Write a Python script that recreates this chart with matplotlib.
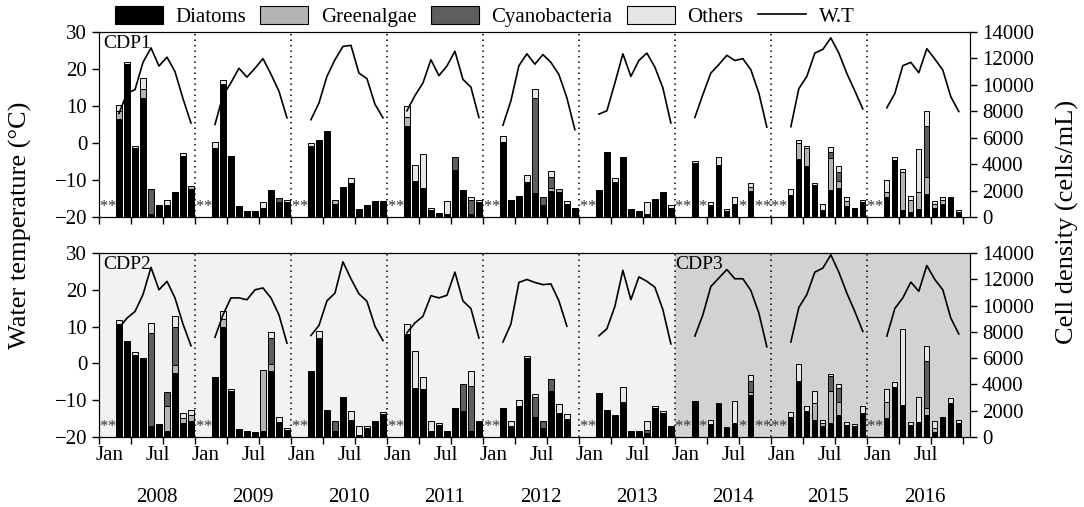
import numpy as np
import matplotlib
matplotlib.use('Agg')
from matplotlib import pyplot as plt
from matplotlib.patches import Patch
from matplotlib.lines import Line2D
import matplotlib.transforms as mtransforms

plt.rcParams['font.family'] = ['Liberation Serif', 'DejaVu Serif']

N = None
years = [2008, 2009, 2010, 2011, 2012, 2013, 2014, 2015, 2016]

# ---- CDP1 (top panel), cells/mL, one row per year Jan..Dec
top_diatoms = [
    N, N, 7400, 11600, 5200, 9000, 200, 880, 900, 1870, 4600, 2150,
    N, N, 5200, 10100, 4640, 860, 430, 430, 700, 2070, 1100, 1100,
    N, N, 5350, 5800, 6480, 1000, 2270, 2600, 630, 880, 1180, 1235,
    N, N, 6900, 2700, 2190, 500, 300, 250, 3580, 2070, 200, 1150,
    N, N, 5640, 1310, 1560, 2650, 1800, 900, 2000, 1900, 1000, 680,
    N, N, 2070, 4910, 2650, 4510, 600, 480, 200, 1360, 1860, 680,
    N, N, 4100, N, 900, 3960, 450, 980, N, 2000, N, N,
    N, N, 1690, 4400, 3830, 2400, 500, 2020, 2200, 800, 680, 1150,
    N, N, 1500, 4300, 550, 400, 600, 1760, 700, 1000, 1510, 400,
]
top_green = [
    N, N, 600, 0, 0, 700, 0, 0, 0, 0, 0, 170,
    N, N, 0, 0, 0, 0, 0, 0, 0, 0, 0, 0,
    N, N, 0, 0, 0, 310, 0, 0, 0, 0, 0, 0,
    N, N, 700, 0, 0, 0, 0, 0, 0, 0, 0, 0,
    N, N, 0, 0, 0, 0, 0, 0, 200, 220, 0, 0,
    N, N, 0, 0, 0, 0, 0, 0, 0, 0, 0, 0,
    N, N, 0, N, 0, 0, 0, 0, N, 300, N, N,
    N, N, 0, 1200, 1400, 0, 0, 2450, 500, 400, 0, 0,
    N, N, 400, 0, 2880, 900, 1300, 1230, 300, 300, 0, 0,
]
top_cyano = [
    N, N, 0, 0, 0, 0, 1900, 0, 0, 0, 0, 0,
    N, N, 0, 0, 0, 0, 0, 0, 0, 0, 340, 0,
    N, N, 0, 0, 0, 0, 0, 0, 0, 0, 0, 0,
    N, N, 0, 0, 0, 0, 0, 0, 930, 0, 1100, 0,
    N, N, 0, 0, 0, 0, 7200, 600, 800, 0, 0, 0,
    N, N, 0, 0, 0, 0, 0, 0, 0, 0, 0, 0,
    N, N, 0, N, 0, 0, 0, 0, N, 0, N, N,
    N, N, 0, 0, 0, 0, 0, 450, 700, 0, 0, 0,
    N, N, 0, 0, 0, 0, 0, 3930, 0, 0, 0, 0,
]
top_others = [
    N, N, 500, 100, 150, 800, 50, 0, 350, 0, 240, 0,
    N, N, 500, 300, 0, 0, 0, 0, 430, 0, 0, 160,
    N, N, 240, 0, 0, 0, 0, 350, 0, 0, 0, 0,
    N, N, 770, 1260, 2570, 180, 0, 930, 0, 0, 190, 110,
    N, N, 510, 0, 0, 550, 700, 0, 500, 0, 235, 0,
    N, N, 0, 0, 300, 0, 0, 0, 930, 0, 0, 200,
    N, N, 160, N, 230, 580, 150, 500, N, 300, N, N,
    N, N, 450, 200, 160, 170, 480, 350, 430, 290, 0, 160,
    N, N, 900, 210, 200, 260, 3250, 1070, 180, 210, 0, 100,
]
top_temp = [
    N, N, 8.0, 13.5, 14.4, 21.8, 25.7, 20.8, 23.2, 19.3, 12.0, 5.4,
    N, N, 5.0, 12.8, 16.3, 20.2, 17.8, 20.2, 22.8, 18.6, 14.0, 6.8,
    N, N, 6.3, 10.8, 18.0, 22.5, 26.1, 26.4, 18.9, 17.4, 10.5, 6.8,
    N, N, 8.7, 12.8, 16.2, 22.5, 18.2, 20.8, 24.8, 17.2, 15.1, 6.9,
    N, N, 4.8, 11.4, 20.9, 24.1, 21.3, 23.9, 21.8, 18.5, 12.2, 3.6,
    N, N, 7.8, 8.7, 16.2, 24.1, 18.0, 22.3, 24.3, 20.5, 14.9, 5.4,
    N, N, 6.9, 13.1, 18.9, 21.2, 23.7, 22.3, 22.8, 19.8, 13.5, 4.3,
    N, N, 4.4, 14.7, 18.0, 24.3, 25.3, 28.4, 24.3, 18.8, 14.1, 9.2,
    N, N, 9.5, 13.4, 20.9, 21.8, 19.0, 25.5, 22.7, 19.7, 12.5, 8.5,
]

# ---- CDP2 (2008-2013) and CDP3 (2014-2016), bottom panel
bot_diatoms = [
    N, N, 8600, 7280, 6250, 6010, 810, 990, 480, 4870, 1065, 1240,
    N, N, 4540, 8400, 3500, 630, 480, 380, 480, 5050, 1140, 500,
    N, N, 5050, 7500, 1950, 430, 3020, 1320, 150, 700, 1190, 1750,
    N, N, 7840, 3730, 3680, 480, 950, 480, 2210, 1950, 430, 1240,
    N, N, 2210, 860, 2330, 6000, 1450, 690, 3470, 1830, 1400, 0,
    N, N, 3350, 2030, 1580, 2660, 430, 430, 300, 2200, 1800, 750,
    N, N, 2710, N, 1000, 2590, 650, 1065, N, 3220, N, N,
    N, N, 1500, 4240, 1950, 1320, 800, 1065, 1700, 950, 850, 1830,
    N, N, 1450, 3780, 2460, 900, 1140, 1700, 400, 1520, 2590, 1050,
]
bot_green = [
    N, N, 0, 0, 0, 0, 0, 0, 1850, 630, 400, 400,
    N, N, 0, 600, 0, 0, 0, 0, 4640, 500, 0, 0,
    N, N, 0, 0, 0, 0, 0, 0, 0, 0, 0, 0,
    N, N, 0, 0, 0, 0, 0, 0, 0, 0, 0, 0,
    N, N, 0, 0, 0, 0, 100, 0, 0, 0, 0, 0,
    N, N, 0, 0, 0, 0, 0, 0, 0, 0, 0, 0,
    N, N, 0, N, 0, 0, 0, 0, N, 200, N, N,
    N, N, 0, 0, 0, 1270, 300, 2410, 1000, 0, 0, 0,
    N, N, 1220, 0, 0, 0, 0, 500, 300, 0, 0, 0,
]
bot_cyano = [
    N, N, 0, 0, 0, 0, 7100, 0, 1090, 2840, 0, 0,
    N, N, 0, 0, 0, 0, 0, 0, 0, 1980, 0, 0,
    N, N, 0, 0, 0, 760, 0, 0, 0, 0, 0, 0,
    N, N, 0, 0, 0, 0, 0, 0, 0, 2080, 3420, 0,
    N, N, 0, 0, 0, 0, 1500, 550, 940, 0, 0, 0,
    N, N, 0, 0, 0, 0, 0, 0, 200, 0, 0, 0,
    N, N, 0, N, 0, 0, 0, 0, N, 810, N, N,
    N, N, 0, 0, 0, 0, 0, 1140, 1000, 0, 0, 0,
    N, N, 0, 0, 0, 0, 0, 3550, 0, 0, 0, 0,
]
bot_others = [
    N, N, 330, 0, 190, 0, 760, 0, 0, 840, 365, 390,
    N, N, 0, 560, 150, 0, 0, 0, 0, 430, 360, 190,
    N, N, 0, 540, 130, 0, 0, 630, 660, 110, 0, 130,
    N, N, 760, 2840, 860, 710, 115, 0, 0, 0, 1190, 0,
    N, N, 0, 330, 510, 140, 250, 0, 0, 680, 380, 0,
    N, N, 0, 0, 120, 1120, 0, 0, 690, 130, 150, 110,
    N, N, 0, N, 320, 0, 110, 1700, N, 460, N, N,
    N, N, 400, 1310, 380, 940, 170, 200, 330, 190, 160, 500,
    N, N, 1010, 380, 5780, 240, 1900, 1140, 490, 0, 380, 270,
]
bot_temp = [
    N, N, 9.6, 12.3, 14.1, 18.7, 26.1, 20.0, 22.3, 17.8, 10.7, 4.8,
    N, N, 7.1, 13.2, 17.8, 17.8, 17.3, 20.0, 20.5, 17.8, 13.2, 5.5,
    N, N, 7.6, 10.3, 17.0, 19.1, 27.6, 23.0, 18.9, 16.9, 10.1, 6.2,
    N, N, 8.3, 11.0, 12.8, 18.4, 17.8, 18.5, 24.8, 17.0, 14.9, 6.9,
    N, N, 5.8, 10.7, 22.0, 22.8, 22.0, 21.4, 21.6, 17.0, 10.1, N,
    N, N, 7.5, 9.4, 15.5, 25.3, 17.3, 23.5, 22.3, 20.7, 14.6, 5.3,
    N, N, 7.4, 13.2, 20.9, 23.2, 25.5, 23.0, 23.0, 19.8, 13.7, 4.5,
    N, N, 5.8, 15.2, 18.7, 24.8, 25.9, 29.5, 24.8, 19.1, 14.1, 8.7,
    N, N, 7.4, 14.9, 17.8, 22.1, 19.6, 26.6, 22.8, 20.0, 12.3, 8.0,
]

groups = ['Diatoms', 'Greenalgae', 'Cyanobacteria', 'Others']
colors = ['#000000', '#b4b4b4', '#5e5e5e', '#e6e6e6']
TICK_FS = 15


def arr(v):
    return np.array([np.nan if a is None else a for a in v], dtype=float)


def draw_panel(ax, comps, temp, label, shade):
    x = np.arange(len(temp))
    axT = ax.twinx()
    if shade:
        ax.axvspan(-0.5, 71.5, color='#f2f2f2', zorder=0, lw=0)
        ax.axvspan(71.5, 109, color='#d2d2d2', zorder=0, lw=0)
    bottom = np.zeros(len(x))
    for vals, c in zip(comps, colors):
        v = arr(vals)
        m = np.nan_to_num(v) > 0
        ax.bar(x[m], v[m], bottom=bottom[m], width=0.66, color=c,
               edgecolor='black', linewidth=0.7, zorder=2)
        bottom = bottom + np.nan_to_num(v)
    # months without sample
    miss = np.isnan(arr(comps[0]))
    trans = mtransforms.blended_transform_factory(ax.transData, ax.transAxes)
    for i in x[miss]:
        ax.text(i, 0.01, '*', transform=trans, ha='center', va='bottom',
                fontsize=12, color='#333333', zorder=3)
    for k in range(1, 9):
        ax.axvline(12 * k - 0.5, color='black', linestyle=(0, (1, 2.6)),
                   linewidth=1.1, zorder=1)
    ax.set_xlim(-0.5, 108.4)
    ax.set_ylim(0, 14000)
    ax.set_yticks(np.arange(0, 14001, 2000))
    ax.set_xticks(np.arange(-0.5, 108, 4))
    ax.set_xticklabels([])
    ax.tick_params(axis='both', direction='out', length=5, width=1,
                   labelsize=TICK_FS)
    ax.tick_params(axis='y', left=False, labelleft=False, right=True,
                   labelright=True)

    axT.set_ylim(-20, 30)
    axT.set_yticks(np.arange(-20, 31, 10))
    axT.tick_params(axis='y', direction='out', length=5, width=1,
                    labelsize=TICK_FS, left=True, right=False,
                    labelleft=True, labelright=False)
    t = arr(temp)
    for y in range(len(years)):
        seg = slice(12 * y, 12 * y + 12)
        axT.plot(x[seg], t[seg], color='black', linewidth=1.2, zorder=4)
    axT.set_xlim(-0.5, 108.4)
    ax.text(0.005, 0.985, label, transform=ax.transAxes, ha='left', va='top',
            fontsize=14)
    return axT


fig = plt.figure(figsize=(10.84, 5.07), dpi=100)
ax1 = fig.add_axes([99 / 1084, 1 - 217 / 507, 871 / 1084, 185 / 507])
ax2 = fig.add_axes([99 / 1084, 1 - 437 / 507, 871 / 1084, 184 / 507])

draw_panel(ax1, [top_diatoms, top_green, top_cyano, top_others], top_temp,
           'CDP1', False)
draw_panel(ax2, [bot_diatoms, bot_green, bot_cyano, bot_others], bot_temp,
           'CDP2', True)
ax2.text(71.6, 0.985, 'CDP3', transform=mtransforms.blended_transform_factory(
    ax2.transData, ax2.transAxes), ha='left', va='top', fontsize=14)

# month and year labels under the bottom panel
trans = mtransforms.blended_transform_factory(ax2.transData, ax2.transAxes)
for k, yr in enumerate(years):
    ax2.text(12 * k + 0.8, -0.05, 'Jan', transform=trans, ha='center',
             va='top', fontsize=TICK_FS)
    ax2.text(12 * k + 6.9, -0.05, 'Jul', transform=trans, ha='center',
             va='top', fontsize=TICK_FS)
    ax2.text(12 * k + 6.7, -0.275, str(yr), transform=trans, ha='center',
             va='top', fontsize=15)

fig.text(0.019, 0.556, 'Water temperature (\u00b0C)', rotation=90,
         ha='center', va='center', fontsize=19)
fig.text(0.985, 0.562, 'Cell density (cells/mL)', rotation=90,
         ha='center', va='center', fontsize=19)

handles = [Patch(facecolor=c, edgecolor='black', linewidth=0.8)
           for c in colors]
handles.append(Line2D([0], [0], color='black', linewidth=1.2))
fig.legend(handles, groups + ['W.T'], loc='center', ncol=5,
           bbox_to_anchor=(0.447, 0.968), frameon=False, fontsize=15,
           handlelength=2.3, handleheight=0.95, handletextpad=0.6,
           columnspacing=0.7, borderpad=0.1)

fig.savefig('out.png', dpi=100)
